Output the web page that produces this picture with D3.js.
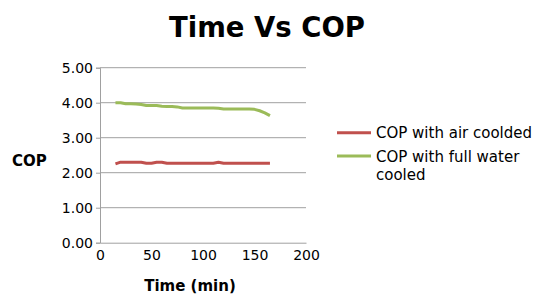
<!DOCTYPE html>
<html>
<head>
<meta charset="utf-8">
<script src="https://cdn.jsdelivr.net/npm/d3@7"></script>
<style>
  body { margin: 0; background: #fff; }
  text { font-family: "DejaVu Sans", sans-serif; }
</style>
</head>
<body>
<div id="chart"></div>
<script>
// Time in minutes and COP readings for both cooling modes
const times = [15, 20, 25, 30, 35, 40, 45, 50, 55, 60, 65, 70, 75, 80, 85, 90, 95, 100, 105, 110, 115, 120, 125, 130, 135, 140, 145, 150, 155, 160, 165];
const copAir = [2.25, 2.30, 2.30, 2.30, 2.30, 2.30, 2.27, 2.27, 2.30, 2.30, 2.27, 2.27, 2.27, 2.27, 2.27, 2.27, 2.27, 2.27, 2.27, 2.27, 2.30, 2.27, 2.27, 2.27, 2.27, 2.27, 2.27, 2.27, 2.27, 2.27, 2.27];
const copWater = [4.00, 4.00, 3.97, 3.97, 3.96, 3.95, 3.92, 3.92, 3.92, 3.90, 3.89, 3.89, 3.88, 3.85, 3.85, 3.85, 3.85, 3.85, 3.85, 3.85, 3.84, 3.82, 3.82, 3.82, 3.82, 3.82, 3.82, 3.81, 3.77, 3.71, 3.63];
const seriesNames = ["COP with air coolded", "COP with full water cooled"];
const seriesColors = ["#c0504d", "#9bbb59"];
const yTicks = [0, 1, 2, 3, 4, 5];
const xTicks = [0, 50, 100, 150, 200];

const W = 545, H = 295;
const plot = { left: 100, right: 306, top: 67.7, bottom: 242.7 };

const svg = d3.select("#chart").append("svg")
    .attr("width", W)
    .attr("height", H);

const x = d3.scaleLinear().domain([0, 200]).range([plot.left, plot.right]);
const y = d3.scaleLinear().domain([0, 5]).range([plot.bottom, plot.top]);

// Horizontal gridlines
svg.append("g")
    .selectAll("line")
    .data(yTicks.slice(1))
    .join("line")
        .attr("x1", plot.left)
        .attr("x2", plot.right)
        .attr("y1", d => y(d))
        .attr("y2", d => y(d))
        .attr("stroke", "#a0a0a0")
        .attr("stroke-width", 1);

// Y axis
const yAxis = svg.append("g")
    .attr("transform", `translate(${plot.left},0)`)
    .call(d3.axisLeft(y).tickValues(yTicks).tickFormat(d3.format(".2f")).tickSize(4).tickPadding(3));
yAxis.select(".domain").attr("stroke", "#a0a0a0");
yAxis.selectAll(".tick line").attr("stroke", "#a0a0a0");
yAxis.selectAll(".tick text")
    .attr("font-size", 14)
    .attr("fill", "#000")
    .style("font-family", "DejaVu Sans");

// X axis
const xAxis = svg.append("g")
    .attr("transform", `translate(0,${plot.bottom})`)
    .call(d3.axisBottom(x).tickValues(xTicks).tickSize(0).tickPadding(7));
xAxis.select(".domain").attr("stroke", "#a0a0a0");
xAxis.selectAll(".tick text")
    .attr("font-size", 14)
    .attr("fill", "#000")
    .style("font-family", "DejaVu Sans");

// Lines
const series = [copAir, copWater];
const line = d3.line()
    .x((d, i) => x(times[i]))
    .y(d => y(d));

svg.append("g")
    .selectAll("path")
    .data(series)
    .join("path")
        .attr("fill", "none")
        .attr("stroke", (d, i) => seriesColors[i])
        .attr("stroke-width", 3)
        .attr("stroke-linejoin", "round")
        .attr("d", line);

// Titles
svg.append("text")
    .attr("x", 267)
    .attr("y", 36.5)
    .attr("text-anchor", "middle")
    .attr("font-size", 27.5)
    .attr("font-weight", "bold")
    .text("Time Vs COP");

svg.append("text")
    .attr("x", 12)
    .attr("y", 166)
    .attr("font-size", 15)
    .attr("font-weight", "bold")
    .text("COP");

svg.append("text")
    .attr("x", 190)
    .attr("y", 291)
    .attr("text-anchor", "middle")
    .attr("font-size", 15)
    .attr("font-weight", "bold")
    .text("Time (min)");

// Legend
const legendRows = [
    { lines: ["COP with air coolded"], y: 132.7 },
    { lines: ["COP with full water", "cooled"], y: 156 }
];
const legend = svg.append("g");
legendRows.forEach((row, i) => {
    legend.append("line")
        .attr("x1", 337)
        .attr("x2", 371)
        .attr("y1", row.y)
        .attr("y2", row.y)
        .attr("stroke", seriesColors[i])
        .attr("stroke-width", 3);
    const t = legend.append("text")
        .attr("x", 376)
        .attr("y", row.y + 5.5)
        .attr("font-size", 15)
        .attr("fill", "#000");
    row.lines.forEach((s, j) => {
        t.append("tspan")
            .attr("x", 376)
            .attr("dy", j === 0 ? 0 : 18)
            .text(s);
    });
});
</script>
</body>
</html>
